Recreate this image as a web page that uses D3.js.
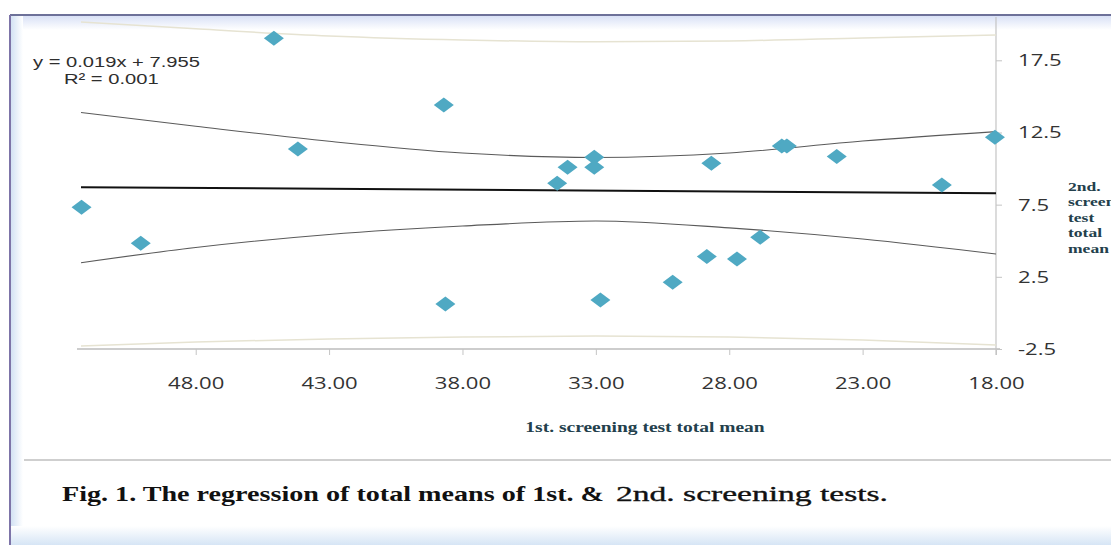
<!DOCTYPE html>
<html>
<head>
<meta charset="utf-8">
<script src="https://cdn.jsdelivr.net/npm/d3@7"></script>
<style>
  body { margin: 0; background: #fff; }
  svg { display: block; }
</style>
</head>
<body>
<svg width="1111" height="545"></svg>
<script>
// values (x axis runs backwards: 52 -> 18)
var xTicks = [48, 43, 38, 33, 28, 23, 18];
var yTicks = [-2.5, 2.5, 7.5, 12.5, 17.5];

// 1st. screening test total mean / 2nd. screening test total mean
var firstMean  = [45.07, 38.70, 44.17, 52.28, 50.06, 38.64, 34.45, 34.06, 33.06, 33.06, 32.83,
                  30.12, 28.84, 28.67, 27.71, 26.84, 26.03, 25.84, 23.97, 20.03, 18.04];
var secondMean = [19.03, 14.41, 11.36, 7.32, 4.82, 0.62, 8.98, 10.09, 10.78, 10.09, 0.90,
                  2.12, 3.90, 10.37, 3.74, 5.24, 11.57, 11.57, 10.83, 8.87, 12.17];

// trend line and the bands round it, read at the tick positions
var trendX = [52.3, 18];
var trendY = [8.71, 8.29];
var bandX   = [52.3, 48, 43, 38, 33, 28, 23, 18];
var ciUpper = [13.88, 12.93, 11.89, 11.08, 10.77, 11.08, 11.91, 12.56];
var ciLower = [3.48, 4.53, 5.43, 6.02, 6.37, 5.89, 5.12, 4.08];
var piUpper = [20.16, 19.68, 19.19, 18.91, 18.78, 18.84, 19.05, 19.26];
var piLower = [-2.29, -2.01, -1.81, -1.67, -1.60, -1.67, -1.88, -2.22];

var eqText = "y = 0.019x + 7.955";
var r2Text = "R\u00b2 = 0.001";

var sx = 1.3; // the scan is stretched sideways, so is all its type

var svg = d3.select("svg");

// page frame (scan of a document)
var defs = svg.append("defs");
var gTop = defs.append("linearGradient").attr("id", "gTop").attr("x1", 0).attr("y1", 0).attr("x2", 0).attr("y2", 1);
gTop.append("stop").attr("offset", "0%").attr("stop-color", "#d9e1f6");
gTop.append("stop").attr("offset", "100%").attr("stop-color", "#ffffff");
var gLeft = defs.append("linearGradient").attr("id", "gLeft").attr("x1", 0).attr("y1", 0).attr("x2", 1).attr("y2", 0);
gLeft.append("stop").attr("offset", "0%").attr("stop-color", "#d3e2f4");
gLeft.append("stop").attr("offset", "100%").attr("stop-color", "#ffffff");
var gBot = defs.append("linearGradient").attr("id", "gBot").attr("x1", 0).attr("y1", 0).attr("x2", 0).attr("y2", 1);
gBot.append("stop").attr("offset", "0%").attr("stop-color", "#ffffff");
gBot.append("stop").attr("offset", "100%").attr("stop-color", "#d6e5f5");

svg.append("rect").attr("x", 11).attr("y", 16).attr("width", 1100).attr("height", 14).attr("fill", "url(#gTop)");
svg.append("rect").attr("x", 11).attr("y", 16).attr("width", 12).attr("height", 529).attr("fill", "url(#gLeft)");
svg.append("rect").attr("x", 11).attr("y", 526).attr("width", 1100).attr("height", 19).attr("fill", "url(#gBot)");
svg.append("line").attr("x1", 10).attr("x2", 1111).attr("y1", 15).attr("y2", 15)
    .attr("stroke", "#6d7199").attr("stroke-width", 2);
svg.append("line").attr("x1", 10).attr("x2", 10).attr("y1", 15).attr("y2", 545)
    .attr("stroke", "#7d74a8").attr("stroke-width", 2);
svg.append("line").attr("x1", 24).attr("x2", 1111).attr("y1", 460).attr("y2", 460)
    .attr("stroke", "#a0a0a0").attr("stroke-width", 1.2);

// scales
var x = d3.scaleLinear().domain([52.3, 18]).range([81, 996]);
var y = d3.scaleLinear().domain([-2.5, 20.5]).range([349, 17]);

var fmt1 = d3.format(".1f");
function plainMinus(v) { return fmt1(v).replace("\u2212", "-"); }

// axes
var xAxis = svg.append("g")
    .attr("transform", "translate(0," + y(-2.5) + ")")
    .call(d3.axisBottom(x).tickValues(xTicks).tickFormat(d3.format(".2f")).tickSizeOuter(0).tickSize(6).tickPadding(22));
xAxis.select(".domain").attr("stroke", "#bdbdbd").attr("stroke-width", 1.3)
    .attr("d", "M" + (x(52.3) - 4) + ",0H" + (x(18) + 4));
xAxis.selectAll(".tick line").attr("stroke", "#c4c4c4");
xAxis.selectAll(".tick text").attr("fill", "#333")
    .attr("transform", "scale(" + sx + ",1)")
    .style("font-family", "'Open Sans', sans-serif").style("font-size", "17px");

var yAxis = svg.append("g")
    .attr("transform", "translate(" + x(18) + ",0)")
    .call(d3.axisRight(y).tickValues(yTicks).tickFormat(plainMinus).tickSizeOuter(0).tickSize(6));
yAxis.select(".domain").attr("stroke", "#c4c4c4").attr("stroke-width", 1.2)
    .attr("d", "M0," + y(20.5) + "V" + (y(-2.5) + 6));
yAxis.selectAll(".tick line").attr("stroke", "#c4c4c4");
yAxis.selectAll(".tick text").attr("fill", "#333")
    .attr("x", 22 / sx)
    .attr("transform", "scale(" + sx + ",1)")
    .style("font-family", "'Open Sans', sans-serif").style("font-size", "17px");

// bands
var band = d3.line().curve(d3.curveMonotoneX)
    .x(function(d) { return x(d[0]); })
    .y(function(d) { return y(d[1]); });

[piUpper, piLower].forEach(function(vals) {
  svg.append("path")
      .datum(d3.zip(bandX, vals))
      .attr("d", band)
      .attr("fill", "none")
      .attr("stroke", "#e6e3d2")
      .attr("stroke-width", 1.5);
});
[ciUpper, ciLower].forEach(function(vals) {
  svg.append("path")
      .datum(d3.zip(bandX, vals))
      .attr("d", band)
      .attr("fill", "none")
      .attr("stroke", "#5a5a5a")
      .attr("stroke-width", 1.1);
});

// trend line
svg.append("path")
    .datum(d3.zip(trendX, trendY))
    .attr("d", d3.line().x(d => x(d[0])).y(d => y(d[1])))
    .attr("fill", "none")
    .attr("stroke", "#111")
    .attr("stroke-width", 2);

// points (diamonds, a bit wider than tall as in the scan)
svg.selectAll(".pt")
    .data(d3.zip(firstMean, secondMean))
    .enter()
  .append("path")
    .attr("class", "pt")
    .attr("d", "M0,-7.5L10,0L0,7.5L-10,0Z")
    .attr("transform", d => "translate(" + x(d[0]) + "," + y(d[1]) + ")")
    .attr("fill", "#4fa9c3");

// stretched text helper
function label(px, py, str) {
  return svg.append("text")
      .attr("transform", "translate(" + px + "," + py + ") scale(" + sx + ",1)")
      .text(str);
}

// equation
label(33, 67, eqText)
    .style("font-family", "'Liberation Sans', Arial, sans-serif").style("font-size", "15.5px")
    .attr("fill", "#2e2e2e");
label(64, 84, r2Text)
    .style("font-family", "'Liberation Sans', Arial, sans-serif").style("font-size", "15.5px")
    .attr("fill", "#2e2e2e");

// axis titles
label(645, 432, "1st. screening test total mean")
    .attr("text-anchor", "middle")
    .style("font-family", "'Liberation Serif', serif").style("font-weight", "bold").style("font-size", "15px")
    .attr("fill", "#23404c");

var yTitle = svg.append("g").attr("transform", "translate(1068,0) scale(" + sx + ",1)")
  .append("text")
    .style("font-family", "'Liberation Serif', serif").style("font-weight", "bold").style("font-size", "13.5px")
    .attr("fill", "#23404c");
["2nd.", "screening", "test", "total", "mean"].forEach(function(w, i) {
  yTitle.append("tspan").attr("x", 0).attr("y", 191 + i * 15.5).text(w);
});

// caption
svg.append("text")
    .attr("x", 62).attr("y", 501)
    .attr("textLength", 542).attr("lengthAdjust", "spacingAndGlyphs")
    .style("font-family", "'Liberation Serif', serif").style("font-weight", "bold").style("font-size", "22px")
    .attr("fill", "#111")
    .text("Fig. 1. The regression of total means of 1st. &");
svg.append("text")
    .attr("x", 616).attr("y", 501)
    .attr("textLength", 272).attr("lengthAdjust", "spacingAndGlyphs")
    .style("font-family", "'Liberation Serif', serif").style("font-size", "22px")
    .style("stroke", "#111").style("stroke-width", 0.35)
    .attr("fill", "#111")
    .text("2nd. screening tests.");
</script>
</body>
</html>
